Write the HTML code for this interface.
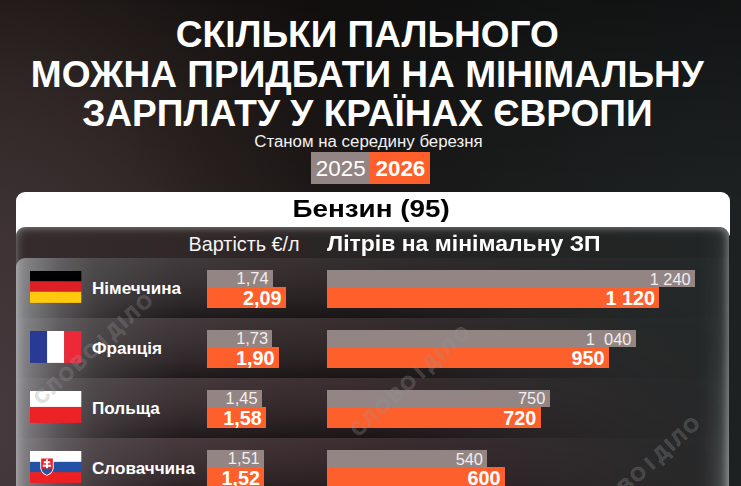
<!DOCTYPE html>
<html lang="uk">
<head>
<meta charset="utf-8">
<title>Скільки пального можна придбати на мінімальну зарплату</title>
<style>
*{margin:0;padding:0;box-sizing:border-box}
html,body{width:741px;height:486px;overflow:hidden}
body{font-family:"Liberation Sans",sans-serif;color:#fff;position:relative;background:#1b1c1c}
.bgl{position:absolute;inset:0;background:
  radial-gradient(ellipse 430px 640px at -20px 420px,rgba(70,58,63,1) 0%,rgba(63,51,53,.97) 30%,rgba(56,45,44,.80) 50%,rgba(48,38,36,.50) 68%,rgba(40,32,29,.22) 85%,rgba(36,28,26,0) 100%),
  linear-gradient(180deg,rgba(0,0,0,.38) 0%,rgba(0,0,0,.16) 22%,rgba(0,0,0,0) 42%),
  linear-gradient(90deg,#1d1817 0%,#1b1716 42%,#1a1a1a 62%,#1c1f1f 80%,#1d2121 100%)}
.t{position:absolute;left:-3.15px;width:741px;text-align:center;font-weight:bold;font-size:37.05px;line-height:40px;white-space:nowrap}
.sub{position:absolute;left:-2px;width:741px;text-align:center;font-size:16.85px;line-height:18px;top:132.7px;color:#f2f2f2}
.y{position:absolute;top:152px;height:32.2px;font-size:22.4px;line-height:33px;text-align:center}
.y1{left:311px;width:59.4px;background:#928583}
.y2{left:370.4px;width:60px;background:#ff5f2b;font-weight:bold}
.white{position:absolute;left:16px;top:191.7px;width:714.2px;height:44.2px;background:#fff;border-radius:9px 9px 2px 2px}
.white span{position:absolute;left:-2.4px;width:100%;top:1.8px;text-align:center;color:#000;font-weight:bold;font-size:24.8px;line-height:32px;transform:scaleX(1.122);transform-origin:357.1px 0}
.panel{position:absolute;left:16.3px;top:227.2px;width:712.9px;height:270px;border-radius:9px 9px 0 0;overflow:hidden;
  background:linear-gradient(90deg,#352b2c 0%,#2f2627 30%,#262424 55%,#212525 100%)}
.glow{position:absolute;left:16.3px;top:227.2px;width:712.9px;height:280px;border-radius:9px 9px 0 0;pointer-events:none;
  box-shadow:inset 0 0 11px rgba(235,240,240,.36), inset 0 2px 5px rgba(235,240,240,.10), inset -3px 0 6px rgba(235,245,245,.10)}
.h1{position:absolute;top:234.2px;left:188.6px;font-size:19.8px;line-height:20px;white-space:nowrap;color:#f4f4f4}
.h2{position:absolute;top:233.2px;left:327.4px;font-size:22.2px;line-height:22px;font-weight:bold;white-space:nowrap;transform:scaleX(1.036);transform-origin:0 0}
.row{position:absolute;left:16.3px;width:712.9px;height:60px;overflow:hidden}
.row .bg{position:absolute;inset:0;background:linear-gradient(90deg,#8f8f93 0%,#7d7d80 2%,#626063 6%,#504c4e 11%,#433c3e 22%,#3a3233 38%,#302b2c 58%,#282a2a 78%,#242828 100%)}
.row .sh{position:absolute;inset:0;background:linear-gradient(180deg,rgba(0,0,0,0) 0%,rgba(0,0,0,.12) 35%,rgba(0,0,0,.30) 70%,rgba(0,0,0,.55) 100%);
  -webkit-mask-image:linear-gradient(90deg,rgba(0,0,0,0) 0%,rgba(0,0,0,.25) 7%,rgba(0,0,0,.7) 15%,#000 24%,#000 50%,rgba(0,0,0,.45) 70%,rgba(0,0,0,.12) 85%,rgba(0,0,0,0) 100%);
  mask-image:linear-gradient(90deg,rgba(0,0,0,0) 0%,rgba(0,0,0,.25) 7%,rgba(0,0,0,.7) 15%,#000 24%,#000 50%,rgba(0,0,0,.45) 70%,rgba(0,0,0,.12) 85%,rgba(0,0,0,0) 100%)}
.flag{position:absolute;left:14.15px;top:13.1px;width:51.3px;height:31.9px;overflow:hidden}
.flag svg{display:block;width:100%;height:100%}
.name{z-index:2;position:absolute;left:75.7px;top:21px;font-weight:bold;font-size:17.1px;line-height:20px;white-space:nowrap}
.g,.o{position:absolute;color:#fff;text-align:right;white-space:pre}
.g{top:11.5px;height:17.7px;background:#928583;font-size:16.4px;line-height:17.8px;padding-right:4.3px;color:#f1eeee}
.g.d{line-height:19.8px}
.g.e{line-height:19.8px}
.o{top:28.9px;height:21.3px;background:#ff5f2b;font-size:19.8px;line-height:22.2px;font-weight:bold;padding-right:4.4px}
.c{left:190.5px}
.l{left:310.7px}

.row .tint{position:absolute;inset:0;background:radial-gradient(ellipse 470px 290px at 330px var(--ty),rgba(100,52,66,.24) 0%,rgba(100,52,66,.17) 45%,rgba(100,52,66,.07) 75%,rgba(100,52,66,0) 100%)}
.wm{position:absolute;width:220px;height:24px;margin:-12px 0 0 -110px;text-align:center;font-weight:bold;font-size:19.5px;line-height:24px;letter-spacing:2.5px;word-spacing:-5px;color:rgba(150,150,150,.25);-webkit-text-stroke:.8px rgba(150,150,150,.25);transform:rotate(-42.5deg);white-space:nowrap;pointer-events:none}
.rglow{position:absolute;left:694px;top:227px;width:35.2px;height:259px;pointer-events:none;border-radius:0 9px 0 0;
  background:linear-gradient(90deg,rgba(190,200,200,0) 0%,rgba(190,200,200,.03) 30%,rgba(190,200,200,.10) 55%,rgba(190,200,200,.20) 78%,rgba(190,200,200,.34) 100%);
  -webkit-mask-image:linear-gradient(180deg,rgba(0,0,0,.3) 0%,rgba(0,0,0,.5) 45%,#000 100%);mask-image:linear-gradient(180deg,rgba(0,0,0,.3) 0%,rgba(0,0,0,.5) 45%,#000 100%)}
</style>
</head>
<body>
<div class="bgl"></div>
<div class="t" style="top:14.4px">СКІЛЬКИ ПАЛЬНОГО</div>
<div class="t" style="top:53.8px">МОЖНА ПРИДБАТИ НА МІНІМАЛЬНУ</div>
<div class="t" style="top:93.2px">ЗАРПЛАТУ У КРАЇНАХ ЄВРОПИ</div>
<div class="sub">Станом на середину березня</div>
<div class="y y1">2025</div>
<div class="y y2">2026</div>

<div class="white"><span>Бензин (95)</span></div>
<div class="panel"></div>
<div class="h1">Вартість €/л</div>
<div class="h2">Літрів на мінімальну ЗП</div>

<!-- Row 1 -->
<div class="row" style="--ty:282px;top:258px;border-radius:9px 0 0 0">
  <div class="bg"></div><div class="tint"></div><div class="sh"></div>
  <div class="flag"><svg viewBox="0 0 51 31" preserveAspectRatio="none"><rect width="51" height="10.2" fill="#000"/><rect y="10.2" width="51" height="10" fill="#dd2027"/><rect y="20.2" width="51" height="10.8" fill="#ffc90e"/></svg></div>
  <div class="name">Німеччина</div>
  <div class="g c" style="width:66px">1,74</div>
  <div class="o c" style="width:79.2px">2,09</div>
  <div class="g l d" style="width:368px">1 240</div>
  <div class="o l" style="width:332.4px">1 120</div>
</div>
<!-- Row 2 -->
<div class="row" style="--ty:222px;top:318px">
  <div class="bg"></div><div class="tint"></div><div class="sh"></div>
  <div class="flag"><svg viewBox="0 0 51 31" preserveAspectRatio="none"><rect width="17" height="31" fill="#283a94"/><rect x="17" width="17" height="31" fill="#fff"/><rect x="34" width="17" height="31" fill="#ed2939"/></svg></div>
  <div class="name">Франція</div>
  <div class="g c" style="width:65.6px">1,73</div>
  <div class="o c" style="width:72px">1,90</div>
  <div class="g l d" style="width:308.7px">1&nbsp;&nbsp;040</div>
  <div class="o l" style="width:282px">950</div>
</div>
<!-- Row 3 -->
<div class="row" style="--ty:162px;top:378px">
  <div class="bg"></div><div class="tint"></div><div class="sh"></div>
  <div class="flag"><svg viewBox="0 0 51 31" preserveAspectRatio="none"><rect width="51" height="15.5" fill="#fff"/><rect y="15.5" width="51" height="15.5" fill="#ed2227"/></svg></div>
  <div class="name">Польща</div>
  <div class="g c" style="width:55px">1,45</div>
  <div class="o c" style="width:59.4px">1,58</div>
  <div class="g l" style="width:222.6px">750</div>
  <div class="o l" style="width:213.7px">720</div>
</div>
<!-- Row 4 -->
<div class="row" style="--ty:102px;top:438px">
  <div class="bg"></div><div class="tint"></div><div class="sh"></div>
  <div class="flag"><svg viewBox="0 0 51 31" preserveAspectRatio="none"><rect width="51" height="10.6" fill="#fff"/><rect y="10.6" width="51" height="10" fill="#2252a6"/><rect y="20.6" width="51" height="10.4" fill="#ee2024"/>
    <path d="M10.2 6.3h13.4v9.2c0 4.6-3.300 7.200-6.700 8.600c-3.400-1.400-6.700-4-6.700-8.600z" fill="#fff"/>
    <path d="M11.100 7.200h11.600v8.300c0 3.900-2.800 6.300-5.800 7.600c-3-1.300-5.800-3.700-5.800-7.600z" fill="#ee2024"/>
    <path d="M16 7.900h1.800v2.100h2.300v1.800h-2.300v1.500h3.200v1.900h-3.200v3.600h-1.800v-3.600h-3.200v-1.900h3.200v-1.500h-2.300v-1.800h2.300z" fill="#fff"/>
    <path d="M11.500 18.300c.8-1.500 2.500-1.600 3.300-.4c.7-1.600 3.500-1.600 4.200 0c.8-1.200 2.500-1.100 3.300.4c-1 2.300-3 3.800-5.400 4.800c-2.400-1-4.400-2.500-5.400-4.800z" fill="#2252a6"/>
  </svg></div>
  <div class="name">Словаччина</div>
  <div class="g c" style="width:57.2px">1,51</div>
  <div class="o c" style="width:57.6px">1,52</div>
  <div class="g l e" style="width:160.3px">540</div>
  <div class="o l" style="width:178px">600</div>
</div>
<div class="wm" style="left:93.5px;top:347.5px">СЛОВО І ДІЛО</div>
<div class="wm" style="left:410.5px;top:380px">СЛОВО І ДІЛО</div>
<div class="wm" style="left:641px;top:471px">СЛОВО І ДІЛО</div>
<div class="rglow"></div>
<div class="glow"></div>
</body>
</html>
